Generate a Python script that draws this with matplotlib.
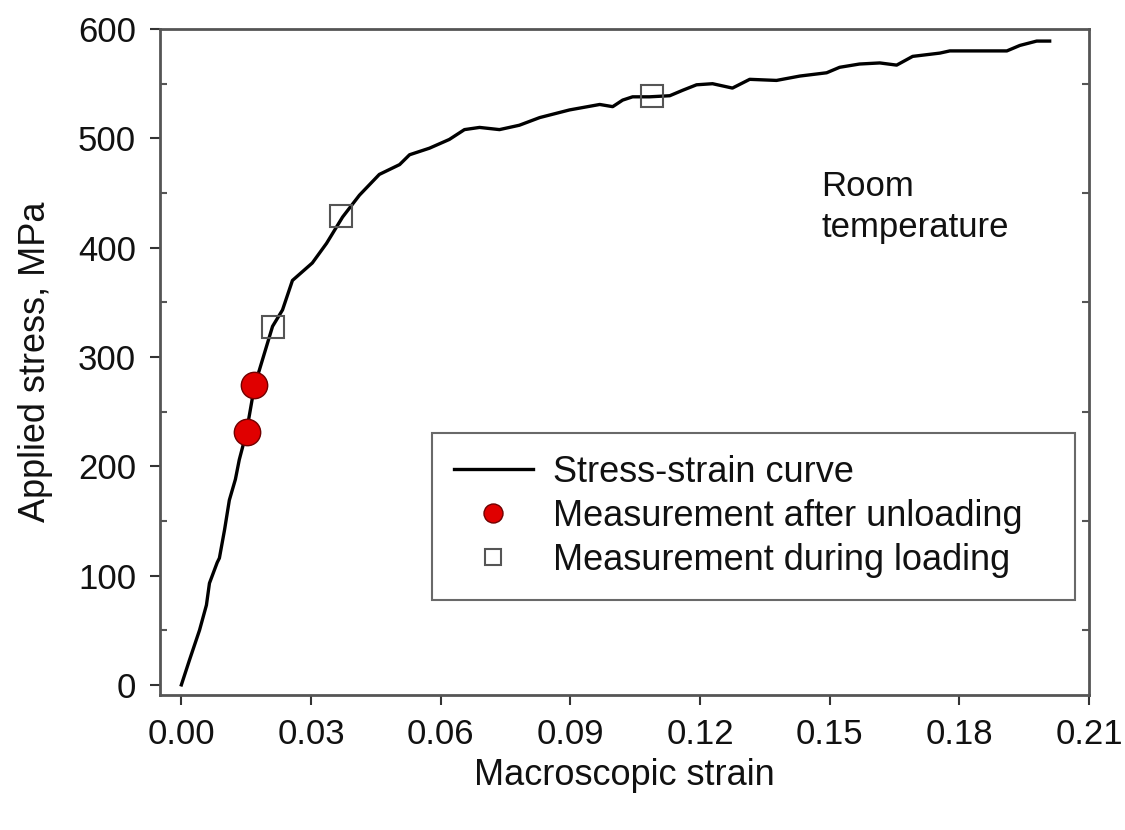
import matplotlib
matplotlib.use("Agg")
import matplotlib.pyplot as plt
from matplotlib.ticker import MultipleLocator

plt.rcParams['font.family'] = ['Liberation Sans', 'DejaVu Sans']

# stress-strain curve
strain = [0.0, 0.0019, 0.0042, 0.0058, 0.0065, 0.0083, 0.0088, 0.0100, 0.0111,
          0.0125, 0.0134, 0.0150, 0.0169, 0.0211, 0.0234, 0.0257, 0.0280, 0.0303,
          0.0336, 0.0373, 0.0412, 0.0458, 0.0505, 0.0528, 0.0574, 0.0620, 0.0655,
          0.0690, 0.0736, 0.0782, 0.0829, 0.0898, 0.0968, 0.0998, 0.1021, 0.1044,
          0.1083, 0.1130, 0.1160, 0.1192, 0.1229, 0.1275, 0.1315, 0.1377, 0.1431,
          0.1493, 0.1523, 0.1569, 0.1616, 0.1655, 0.1692, 0.1755, 0.1778, 0.1831,
          0.1910, 0.1940, 0.1979, 0.2009]
stress = [0, 23, 50, 73, 93, 112, 116, 142, 169,
          188, 206, 230, 273, 328, 343, 370, 378, 386,
          404, 428, 448, 467, 476, 485, 491, 499, 508,
          510, 508, 512, 519, 526, 531, 529, 535, 538,
          538, 539, 544, 549, 550, 546, 554, 553, 557,
          560, 565, 568, 569, 567, 575, 578, 580, 580,
          580, 585, 589, 589]

unload_strain = [0.0153, 0.0169]
unload_stress = [231, 274]

load_strain = [0.0211, 0.0370, 0.1088]
load_stress = [327, 429, 539]

fig = plt.figure(figsize=(11.25, 8.3), dpi=100)
ax = fig.add_axes([0.142, 0.163, 0.826, 0.802])

ax.plot(strain, stress, color='black', lw=2.4, label='Stress-strain curve', zorder=2)
ax.plot(unload_strain, unload_stress, 'o', ms=19, mfc='#e00000', mec='#700000',
        mew=1, label='Measurement after unloading', zorder=3)
ax.plot(load_strain, load_stress, 's', ms=16, mfc='none', mec='#555555',
        mew=1.5, label='Measurement during loading', zorder=3)

ax.set_xlim(-0.005, 0.21)
ax.set_ylim(-9, 600)
ax.xaxis.set_major_locator(MultipleLocator(0.03))
ax.yaxis.set_major_locator(MultipleLocator(100))
ax.yaxis.set_minor_locator(MultipleLocator(50))
ax.xaxis.set_major_formatter(plt.FormatStrFormatter('%.2f'))

ax.tick_params(axis='both', which='major', direction='out', length=7, width=1.5,
               labelsize=25, colors='#333333', labelcolor='#111111', pad=10)
ax.tick_params(axis='y', which='minor', direction='in', length=5, width=1.5,
               left=True, right=True, colors='#555555')
for s in ax.spines.values():
    s.set_linewidth(2)
    s.set_color('#555555')

ax.set_xlabel('Macroscopic strain', fontsize=26, labelpad=5, color='#111111')
ax.set_ylabel('Applied stress, MPa', fontsize=26, labelpad=18, color='#111111')

ax.text(0.148, 437, 'Room\ntemperature', fontsize=25, va='center', ha='left',
        linespacing=1.3, color='#111111')

leg = ax.legend(loc='lower left', bbox_to_anchor=(0.293, 0.143, 0.692, 0.25),
                mode='expand', fontsize=26,
                frameon=True, fancybox=False, edgecolor='#444444',
                handlelength=2.2, borderpad=0.6, labelspacing=0.25,
                handletextpad=0.55, markerscale=0.72, borderaxespad=0)
leg.get_frame().set_linewidth(1.5)
for t in leg.get_texts():
    t.set_color('#111111')

fig.savefig('out.png', dpi=100)
